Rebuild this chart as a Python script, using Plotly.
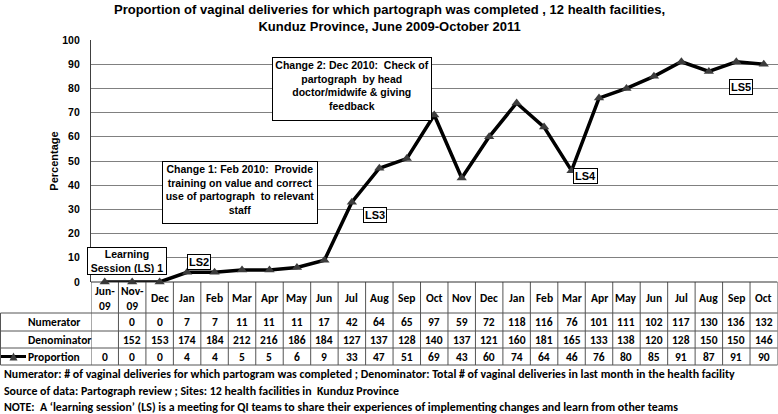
import plotly.graph_objects as go

# ---------------- data ----------------
months = ["Jun-09", "Nov-09", "Dec", "Jan", "Feb", "Mar", "Apr", "May", "Jun", "Jul",
          "Aug", "Sep", "Oct", "Nov", "Dec", "Jan", "Feb", "Mar", "Apr", "May", "Jun",
          "Jul", "Aug", "Sep", "Oct"]
numerator = [None, 0, 0, 7, 7, 11, 11, 11, 17, 42, 64, 65, 97, 59, 72, 118, 116, 76,
             101, 111, 102, 117, 130, 136, 132]
denominator = [None, 152, 153, 174, 184, 212, 216, 186, 184, 127, 137, 128, 140, 137,
               121, 160, 181, 165, 133, 138, 120, 128, 150, 150, 146]
proportion = [0, 0, 0, 4, 4, 5, 5, 6, 9, 33, 47, 51, 69, 43, 60, 74, 64, 46, 76, 80,
              85, 91, 87, 91, 90]
y_ticks = list(range(0, 101, 10))

title_text = ("Proportion of vaginal deliveries for which partograph was completed , 12 health facilities,"
              "<br>Kunduz Province, June 2009-October 2011")
footnotes = [
    "Numerator: # of vaginal deliveries for which partogram was completed ; Denominator: Total # of vaginal deliveries in last month in the health facility",
    "Source of data: Partograph review ; Sites: 12 health facilities in  Kunduz Province",
    "NOTE:  A \u2018learning session\u2019 (LS) is a meeting for QI teams to share their experiences of implementing changes and learn from other teams",
]

# ---------------- layout helpers ----------------
W, H = 778, 414
def px(x):
    return x / W
def py(y):
    return 1 - y / H

ARIAL = "Liberation Sans, Arial, sans-serif"
CALIBRI = "Carlito, Calibri, Liberation Sans Narrow, sans-serif"

x_idx = list(range(len(months)))
n = len(months)

fig = go.Figure()
fig.add_trace(go.Scatter(
    x=x_idx, y=proportion, mode="lines+markers", name="Proportion",
    line=dict(color="black", width=3.5),
    marker=dict(symbol="triangle-up", size=9, color="#3c3c3c"),
    cliponaxis=False, showlegend=False,
))

annotations = []
shapes = []

# title
annotations.append(dict(text="<b>" + title_text + "</b>", xref="paper", yref="paper",
                        x=px(389), y=py(18.5), xanchor="center", yanchor="middle",
                        showarrow=False, font=dict(family=ARIAL, size=13, color="black")))

# table: header + rows
TF = 11.5
row_y = {"hdr": 298, "num": 322, "den": 339.5, "pro": 356.5}
for i, m in enumerate(months):
    annotations.append(dict(text="<b>" + m.replace("-", "-<br>") + "</b>", xref="x", yref="paper",
                            x=i, y=py(row_y["hdr"]), showarrow=False, xanchor="center", yanchor="middle",
                            font=dict(family=CALIBRI, size=TF, color="black")))
    for key, vals in (("num", numerator), ("den", denominator), ("pro", proportion)):
        v = vals[i]
        if v is None:
            continue
        annotations.append(dict(text="<b>%d</b>" % v, xref="x", yref="paper",
                                x=i, y=py(row_y[key]), showarrow=False, xanchor="center",
                                yanchor="middle", font=dict(family=CALIBRI, size=TF, color="black")))

for lab, key in (("Numerator", "num"), ("Denominator", "den"), ("Proportion", "pro")):
    annotations.append(dict(text="<b>%s</b>" % lab, xref="paper", yref="paper", x=px(26),
                            y=py(row_y[key]), xanchor="left", yanchor="middle", showarrow=False,
                            font=dict(family=CALIBRI, size=TF, color="black")))

# legend key in the "Proportion" row
shapes.append(dict(type="line", xref="paper", yref="paper", x0=px(1), x1=px(26),
                   y0=py(356.5), y1=py(356.5), line=dict(color="black", width=3)))
tri = "M %f,%f L %f,%f L %f,%f Z" % (px(9.5), py(360.5), px(17.5), py(360.5), px(13.5), py(352.5))
shapes.append(dict(type="path", xref="paper", yref="paper", path=tri,
                   fillcolor="#3c3c3c", line=dict(width=0)))

# table grid
GRID = "#555555"
for i in range(n + 1):
    shapes.append(dict(type="line", xref="x", yref="paper", x0=i - 0.5, x1=i - 0.5,
                       y0=py(282), y1=py(365), line=dict(color=GRID, width=1)))
shapes.append(dict(type="line", xref="paper", yref="paper", x0=px(0.5), x1=px(0.5),
                   y0=py(313), y1=py(365), line=dict(color=GRID, width=1)))
shapes.append(dict(type="line", xref="x", yref="paper", x0=-0.5, x1=n - 0.5,
                   y0=py(282), y1=py(282), line=dict(color="#333333", width=1.2)))
for yy in (313, 331, 348, 365):
    shapes.append(dict(type="line", xref="paper", yref="paper", x0=px(0.5), x1=px(777.5),
                       y0=py(yy), y1=py(yy), line=dict(color=GRID, width=1)))

# boxed notes
def box(text, cx, cy, w=None, h=None, valign="middle", size=10.5):
    d = dict(text="<b>" + text + "</b>", xref="paper", yref="paper", x=px(cx), y=py(cy),
             xanchor="center", yanchor="middle", showarrow=False, align="center",
             bgcolor="white", bordercolor="black", borderwidth=1, borderpad=1,
             valign=valign, font=dict(family=ARIAL, size=size, color="black"))
    if w:
        d["width"] = w
    if h:
        d["height"] = h
    annotations.append(d)

box("Learning<br>Session (LS) 1", 127, 261, w=76, h=24)
box("LS2", 199, 262, size=11)
box("LS3", 374.5, 214.5, size=11)
box("LS4", 585, 175.5, size=11)
box("LS5", 741, 86.5, size=11)
box("Change 1: Feb 2010:  Provide<br>training on value and correct<br>use of partograph  to relevant<br>staff",
    240, 192.5, w=152, h=59, valign="top")
box("Change 2: Dec 2010:  Check of<br>partograph  by head<br>doctor/midwife &amp; giving<br>feedback",
    352, 89, w=156, h=60, valign="top")

# footnotes
for t, yy in zip(footnotes, (374, 391, 407)):
    annotations.append(dict(text="<b>" + t + "</b>", xref="paper", yref="paper", x=px(2), y=py(yy),
                            xanchor="left", yanchor="middle", showarrow=False,
                            font=dict(family=CALIBRI, size=11.9, color="black")))

fig.update_layout(
    width=W, height=H, autosize=False,
    margin=dict(l=0, r=0, t=0, b=0, autoexpand=False),
    paper_bgcolor="white", plot_bgcolor="white",
    xaxis=dict(domain=[px(91), px(777.5)], range=[-0.5, n - 0.5], showgrid=False,
               zeroline=False, showticklabels=False, showline=False, fixedrange=True,
               automargin=False),
    yaxis=dict(domain=[py(282), py(40)], range=[0, 100], tickvals=y_ticks,
               showgrid=True, gridcolor="#808080", gridwidth=1, zeroline=False,
               showline=True, linecolor="#404040", linewidth=1.2, ticks="",
               ticklabelstandoff=8, automargin=False,
               tickfont=dict(family=ARIAL, size=10.5, color="black", weight="bold"),
               title=dict(text="<b>Percentage</b>", standoff=1,
                          font=dict(family=ARIAL, size=11, color="black")),
               fixedrange=True),
    showlegend=False,
    annotations=annotations,
    shapes=shapes,
)

fig.write_html("out.html", config={"displayModeBar": False},
               post_script="document.body.style.margin='0';document.body.style.overflow='hidden';")
